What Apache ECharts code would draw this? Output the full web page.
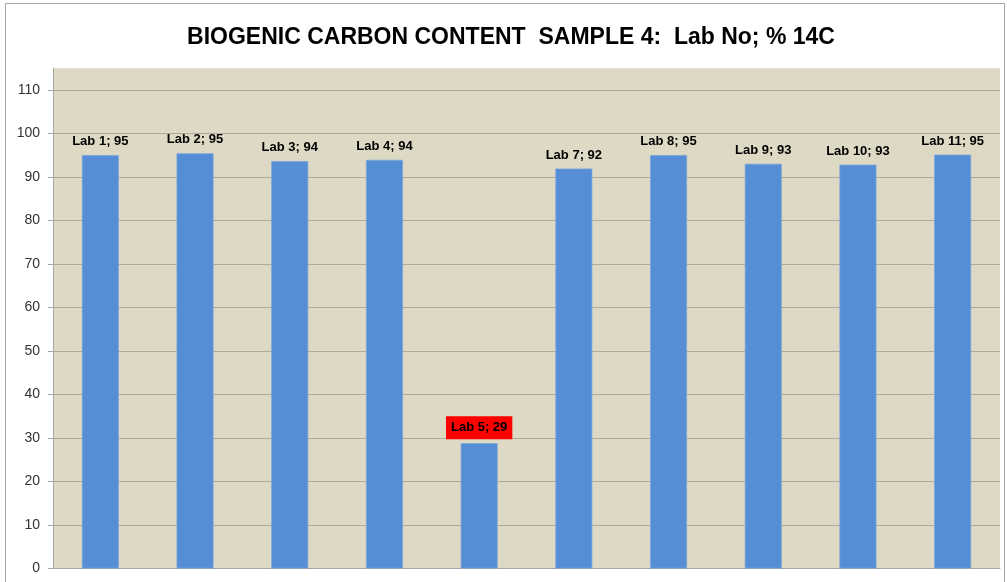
<!DOCTYPE html>
<html>
<head>
<meta charset="utf-8">
<script src="https://cdn.jsdelivr.net/npm/echarts@6/dist/echarts.min.js"></script>
<style>
html,body{margin:0;padding:0;background:#fff;}
#chart{width:1007px;height:582px;}
</style>
</head>
<body>
<div id="chart"></div>
<script>
const titleText = 'BIOGENIC CARBON CONTENT  SAMPLE 4:  Lab No; % 14C';
const categories = ['Lab 1','Lab 2','Lab 3','Lab 4','Lab 5','Lab 7','Lab 8','Lab 9','Lab 10','Lab 11'];
const values = [95.0, 95.4, 93.6, 93.9, 28.8, 91.9, 95.0, 93.0, 92.8, 95.1];
const highlighted = ['Lab 5'];
const yTicks = [0,10,20,30,40,50,60,70,80,90,100,110];

const chart = echarts.init(document.getElementById('chart'));
const gridLineColors = yTicks.map(() => '#aeaa9c').concat(['#e4e1d2']);

chart.setOption({
  animation: false,
  backgroundColor: '#ffffff',
  title: {
    text: titleText,
    left: 506,
    textAlign: 'center',
    top: 21,
    textStyle: {fontFamily: 'Liberation Sans', fontWeight: 'bold', fontSize: 23, color: '#000'}
  },
  graphic: [{
    type: 'rect',
    shape: {x: 5.5, y: 3.5, width: 999, height: 600},
    style: {fill: 'none', stroke: '#a6a6a6', lineWidth: 1},
    silent: true
  }],
  grid: {
    left: 53, right: 7, top: 68, bottom: 13.5,
    show: true, backgroundColor: '#ddd9c4', borderWidth: 0
  },
  xAxis: {
    type: 'category',
    data: categories,
    axisLine: {show: true, lineStyle: {color: '#a6a6a6', width: 1}},
    axisTick: {show: false},
    axisLabel: {show: false},
    splitLine: {show: false}
  },
  yAxis: {
    type: 'value',
    min: 0, max: 115, interval: 10,
    axisLine: {show: true, lineStyle: {color: '#a6a6a6', width: 1}},
    axisTick: {show: true, length: 5, lineStyle: {color: '#a6a6a6'}},
    axisLabel: {
      margin: 13, fontFamily: 'Liberation Sans', fontSize: 14, color: '#333',
      showMaxLabel: false,
      formatter: v => (yTicks.indexOf(v) >= 0 ? String(v) : '')
    },
    splitLine: {show: true, lineStyle: {color: gridLineColors, width: 1.2}}
  },
  series: [{
    type: 'bar',
    barWidth: 37,
    data: categories.map((c, i) => {
      const item = {value: values[i]};
      if (highlighted.indexOf(c) >= 0) {
        item.label = {backgroundColor: '#ff0000', padding: [5, 5, 5, 5], distance: 4};
      }
      return item;
    }),
    itemStyle: {color: '#558ed5', borderColor: '#7aa6dc', borderWidth: 0.8},
    label: {
      show: true,
      position: 'top',
      distance: 7,
      fontFamily: 'Liberation Sans',
      fontWeight: 'bold',
      fontSize: 13,
      color: '#000',
      formatter: p => p.name + '; ' + Math.round(p.value)
    }
  }]
});
</script>
</body>
</html>
